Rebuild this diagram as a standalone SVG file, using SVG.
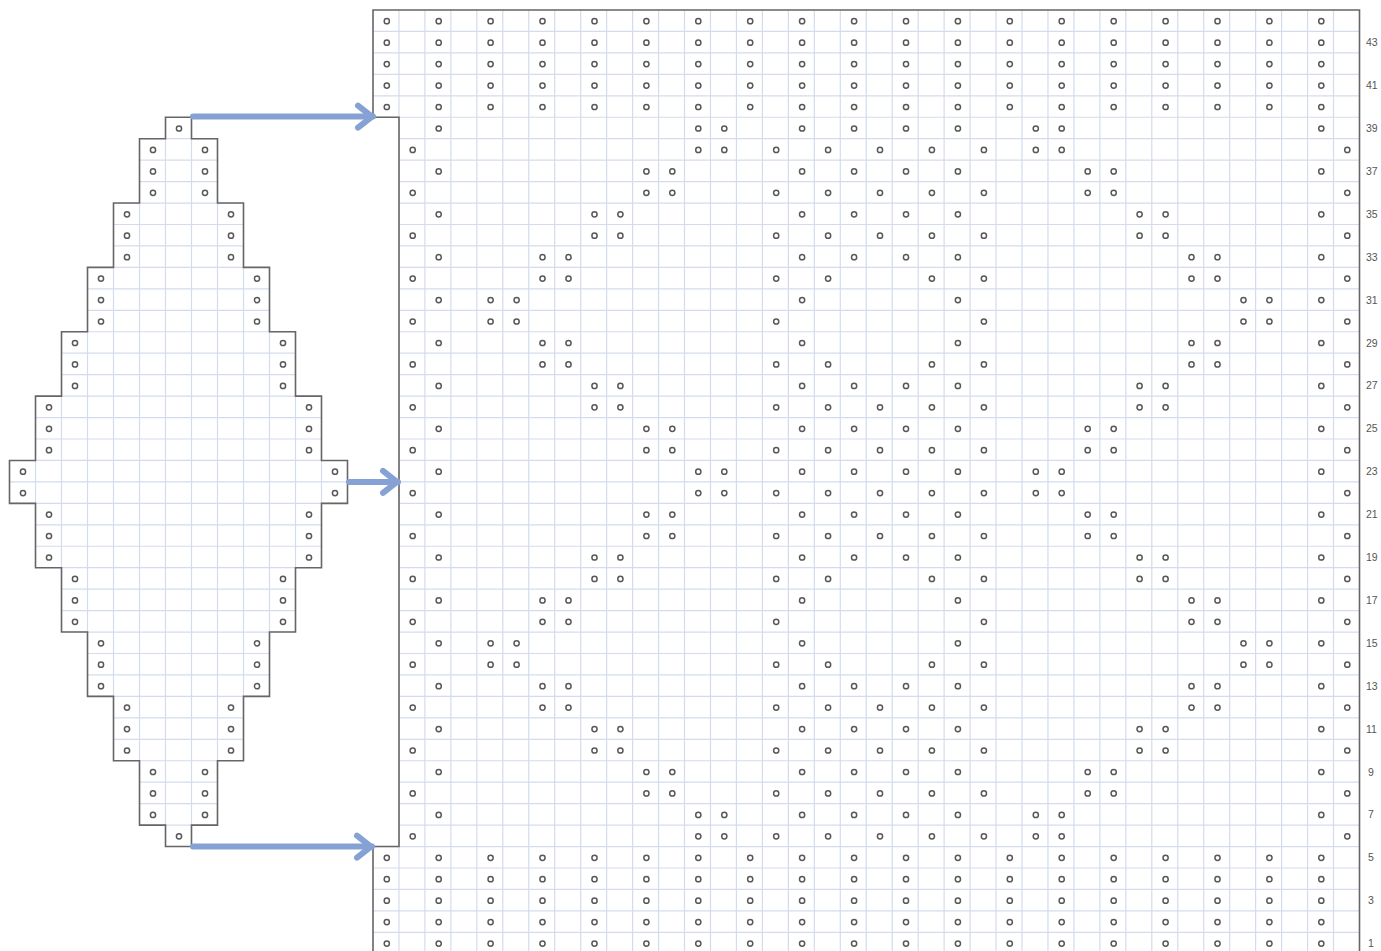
<svg xmlns="http://www.w3.org/2000/svg" xmlns:xlink="http://www.w3.org/1999/xlink" width="1381" height="951" viewBox="0 0 1381 951">
<style>
.dot{fill:#fff;stroke:#585858;stroke-width:1.5}
.grid{fill:none;stroke:#d3dbec;stroke-width:1.2}
.outline{fill:none;stroke:#666;stroke-width:1.6}
.num{font-family:"Liberation Sans",Arial,sans-serif;font-size:10.5px;fill:#555}
.arrow{fill:none;stroke:#86a2d4;stroke-width:6;stroke-linecap:round}
.ahead{fill:none;stroke:#86a2d4;stroke-width:6;stroke-linecap:round;stroke-linejoin:round}
</style>
<defs>
<marker id="ah" markerUnits="userSpaceOnUse" viewBox="-20 -15 30 30" markerWidth="30" markerHeight="30" refX="0" refY="0" orient="auto" overflow="visible">
<path class="ahead" d="M-15,-11 L-1,0 L-15,11"/>
</marker>
<circle id="o" class="dot" r="2.6"/>
<clipPath id="clipMain"><path d="M373,10 H1359.5 V956 H373 V846.55 H399 V117.25 H373 Z"/></clipPath>
<clipPath id="clipLeft"><path d="M165.5,117.25 H191.5 V138.7 H217.5 V203.05 H243.5 V267.4 H269.5 V331.75 H295.5 V396.1 H321.5 V460.45 H347.5 V503.35 H321.5 V567.7 H295.5 V632.05 H269.5 V696.4 H243.5 V760.75 H217.5 V825.1 H191.5 V846.55 H165.5 V825.1 H139.5 V760.75 H113.5 V696.4 H87.5 V632.05 H61.5 V567.7 H35.5 V503.35 H9.5 V460.45 H35.5 V396.1 H61.5 V331.75 H87.5 V267.4 H113.5 V203.05 H139.5 V138.7 H165.5 Z"/></clipPath>
<g id="fullrow"><use href="#o" x="386.8"/><use href="#o" x="438.7"/><use href="#o" x="490.6"/><use href="#o" x="542.5"/><use href="#o" x="594.5"/><use href="#o" x="646.4"/><use href="#o" x="698.3"/><use href="#o" x="750.2"/><use href="#o" x="802.1"/><use href="#o" x="854.1"/><use href="#o" x="906"/><use href="#o" x="957.9"/><use href="#o" x="1009.8"/><use href="#o" x="1061.7"/><use href="#o" x="1113.7"/><use href="#o" x="1165.6"/><use href="#o" x="1217.5"/><use href="#o" x="1269.4"/><use href="#o" x="1321.3"/></g>
<g id="oddFull"><use href="#o" x="438.7"/><use href="#o" x="802.1"/><use href="#o" x="854.1"/><use href="#o" x="906"/><use href="#o" x="957.9"/><use href="#o" x="1321.3"/></g>
<g id="oddPart"><use href="#o" x="438.7"/><use href="#o" x="802.1"/><use href="#o" x="957.9"/><use href="#o" x="1321.3"/></g>
<g id="evenFull"><use href="#o" x="412.7"/><use href="#o" x="776.2"/><use href="#o" x="828.1"/><use href="#o" x="880"/><use href="#o" x="931.9"/><use href="#o" x="983.9"/><use href="#o" x="1347.3"/></g>
<g id="evenMid"><use href="#o" x="412.7"/><use href="#o" x="776.2"/><use href="#o" x="828.1"/><use href="#o" x="931.9"/><use href="#o" x="983.9"/><use href="#o" x="1347.3"/></g>
<g id="evenOuter"><use href="#o" x="412.7"/><use href="#o" x="776.2"/><use href="#o" x="983.9"/><use href="#o" x="1347.3"/></g>
<g id="p5"><use href="#o" x="490.6"/><use href="#o" x="516.6"/><use href="#o" x="1243.5"/><use href="#o" x="1269.4"/></g>
<g id="p7"><use href="#o" x="542.5"/><use href="#o" x="568.5"/><use href="#o" x="1191.5"/><use href="#o" x="1217.5"/></g>
<g id="p9"><use href="#o" x="594.5"/><use href="#o" x="620.4"/><use href="#o" x="1139.6"/><use href="#o" x="1165.6"/></g>
<g id="p11"><use href="#o" x="646.4"/><use href="#o" x="672.3"/><use href="#o" x="1087.7"/><use href="#o" x="1113.7"/></g>
<g id="p13"><use href="#o" x="698.3"/><use href="#o" x="724.3"/><use href="#o" x="1035.8"/><use href="#o" x="1061.7"/></g>
</defs>
<rect width="1381" height="951" fill="#fff"/>

<g id="left-chart">
<path class="grid" clip-path="url(#clipLeft)" d="M35.5,110V850M61.5,110V850M87.5,110V850M113.5,110V850M139.5,110V850M165.5,110V850M191.5,110V850M217.5,110V850M243.5,110V850M269.5,110V850M295.5,110V850M321.5,110V850M5,138.7H352M5,160.15H352M5,181.6H352M5,203.05H352M5,224.5H352M5,245.95H352M5,267.4H352M5,288.85H352M5,310.3H352M5,331.75H352M5,353.2H352M5,374.65H352M5,396.1H352M5,417.55H352M5,439H352M5,460.45H352M5,481.9H352M5,503.35H352M5,524.8H352M5,546.25H352M5,567.7H352M5,589.15H352M5,610.6H352M5,632.05H352M5,653.5H352M5,674.95H352M5,696.4H352M5,717.85H352M5,739.3H352M5,760.75H352M5,782.2H352M5,803.65H352M5,825.1H352"/>
<path class="outline" d="M165.5,117.25 H191.5 V138.7 H217.5 V203.05 H243.5 V267.4 H269.5 V331.75 H295.5 V396.1 H321.5 V460.45 H347.5 V503.35 H321.5 V567.7 H295.5 V632.05 H269.5 V696.4 H243.5 V760.75 H217.5 V825.1 H191.5 V846.55 H165.5 V825.1 H139.5 V760.75 H113.5 V696.4 H87.5 V632.05 H61.5 V567.7 H35.5 V503.35 H9.5 V460.45 H35.5 V396.1 H61.5 V331.75 H87.5 V267.4 H113.5 V203.05 H139.5 V138.7 H165.5 Z"/>
<use href="#o" x="179" y="128.5"/>
<use href="#o" x="153" y="149.9"/><use href="#o" x="205" y="149.9"/>
<use href="#o" x="153" y="171.4"/><use href="#o" x="205" y="171.4"/>
<use href="#o" x="153" y="192.8"/><use href="#o" x="205" y="192.8"/>
<use href="#o" x="127" y="214.3"/><use href="#o" x="231" y="214.3"/>
<use href="#o" x="127" y="235.7"/><use href="#o" x="231" y="235.7"/>
<use href="#o" x="127" y="257.2"/><use href="#o" x="231" y="257.2"/>
<use href="#o" x="101" y="278.6"/><use href="#o" x="257" y="278.6"/>
<use href="#o" x="101" y="300.1"/><use href="#o" x="257" y="300.1"/>
<use href="#o" x="101" y="321.5"/><use href="#o" x="257" y="321.5"/>
<use href="#o" x="75" y="343"/><use href="#o" x="283" y="343"/>
<use href="#o" x="75" y="364.4"/><use href="#o" x="283" y="364.4"/>
<use href="#o" x="75" y="385.9"/><use href="#o" x="283" y="385.9"/>
<use href="#o" x="49" y="407.3"/><use href="#o" x="309" y="407.3"/>
<use href="#o" x="49" y="428.8"/><use href="#o" x="309" y="428.8"/>
<use href="#o" x="49" y="450.2"/><use href="#o" x="309" y="450.2"/>
<use href="#o" x="23" y="471.7"/><use href="#o" x="335" y="471.7"/>
<use href="#o" x="23" y="493.1"/><use href="#o" x="335" y="493.1"/>
<use href="#o" x="49" y="514.6"/><use href="#o" x="309" y="514.6"/>
<use href="#o" x="49" y="536"/><use href="#o" x="309" y="536"/>
<use href="#o" x="49" y="557.5"/><use href="#o" x="309" y="557.5"/>
<use href="#o" x="75" y="578.9"/><use href="#o" x="283" y="578.9"/>
<use href="#o" x="75" y="600.4"/><use href="#o" x="283" y="600.4"/>
<use href="#o" x="75" y="621.8"/><use href="#o" x="283" y="621.8"/>
<use href="#o" x="101" y="643.3"/><use href="#o" x="257" y="643.3"/>
<use href="#o" x="101" y="664.7"/><use href="#o" x="257" y="664.7"/>
<use href="#o" x="101" y="686.2"/><use href="#o" x="257" y="686.2"/>
<use href="#o" x="127" y="707.6"/><use href="#o" x="231" y="707.6"/>
<use href="#o" x="127" y="729.1"/><use href="#o" x="231" y="729.1"/>
<use href="#o" x="127" y="750.5"/><use href="#o" x="231" y="750.5"/>
<use href="#o" x="153" y="772"/><use href="#o" x="205" y="772"/>
<use href="#o" x="153" y="793.4"/><use href="#o" x="205" y="793.4"/>
<use href="#o" x="153" y="814.9"/><use href="#o" x="205" y="814.9"/>
<use href="#o" x="179" y="836.3"/>
</g>

<g id="main-chart">
<path class="grid" clip-path="url(#clipMain)" d="M398.96,10V956M424.92,10V956M450.88,10V956M476.84,10V956M502.8,10V956M528.76,10V956M554.72,10V956M580.68,10V956M606.64,10V956M632.6,10V956M658.56,10V956M684.52,10V956M710.48,10V956M736.44,10V956M762.4,10V956M788.36,10V956M814.32,10V956M840.28,10V956M866.24,10V956M892.2,10V956M918.16,10V956M944.12,10V956M970.08,10V956M996.04,10V956M1022,10V956M1047.96,10V956M1073.92,10V956M1099.88,10V956M1125.84,10V956M1151.8,10V956M1177.76,10V956M1203.72,10V956M1229.68,10V956M1255.64,10V956M1281.6,10V956M1307.56,10V956M1333.52,10V956M373,31.45H1360M373,52.9H1360M373,74.35H1360M373,95.8H1360M373,117.25H1360M373,138.7H1360M373,160.15H1360M373,181.6H1360M373,203.05H1360M373,224.5H1360M373,245.95H1360M373,267.4H1360M373,288.85H1360M373,310.3H1360M373,331.75H1360M373,353.2H1360M373,374.65H1360M373,396.1H1360M373,417.55H1360M373,439H1360M373,460.45H1360M373,481.9H1360M373,503.35H1360M373,524.8H1360M373,546.25H1360M373,567.7H1360M373,589.15H1360M373,610.6H1360M373,632.05H1360M373,653.5H1360M373,674.95H1360M373,696.4H1360M373,717.85H1360M373,739.3H1360M373,760.75H1360M373,782.2H1360M373,803.65H1360M373,825.1H1360M373,846.55H1360M373,868H1360M373,889.45H1360M373,910.9H1360M373,932.35H1360M373,953.8H1360"/>
<path class="outline" d="M373,958 V846.55 H399 V117.25 H373 V10 H1359.5 V958"/>
<use href="#fullrow" y="21.2"/>
<use href="#fullrow" y="42.7"/>
<use href="#fullrow" y="64.1"/>
<use href="#fullrow" y="85.6"/>
<use href="#fullrow" y="107"/>
<use href="#oddFull" y="128.5"/><use href="#p13" y="128.5"/>
<use href="#evenFull" y="149.9"/><use href="#p13" y="149.9"/>
<use href="#oddFull" y="171.4"/><use href="#p11" y="171.4"/>
<use href="#evenFull" y="192.8"/><use href="#p11" y="192.8"/>
<use href="#oddFull" y="214.3"/><use href="#p9" y="214.3"/>
<use href="#evenFull" y="235.7"/><use href="#p9" y="235.7"/>
<use href="#oddFull" y="257.2"/><use href="#p7" y="257.2"/>
<use href="#evenMid" y="278.6"/><use href="#p7" y="278.6"/>
<use href="#oddPart" y="300.1"/><use href="#p5" y="300.1"/>
<use href="#evenOuter" y="321.5"/><use href="#p5" y="321.5"/>
<use href="#oddPart" y="343"/><use href="#p7" y="343"/>
<use href="#evenMid" y="364.4"/><use href="#p7" y="364.4"/>
<use href="#oddFull" y="385.9"/><use href="#p9" y="385.9"/>
<use href="#evenFull" y="407.3"/><use href="#p9" y="407.3"/>
<use href="#oddFull" y="428.8"/><use href="#p11" y="428.8"/>
<use href="#evenFull" y="450.2"/><use href="#p11" y="450.2"/>
<use href="#oddFull" y="471.7"/><use href="#p13" y="471.7"/>
<use href="#evenFull" y="493.1"/><use href="#p13" y="493.1"/>
<use href="#oddFull" y="514.6"/><use href="#p11" y="514.6"/>
<use href="#evenFull" y="536"/><use href="#p11" y="536"/>
<use href="#oddFull" y="557.5"/><use href="#p9" y="557.5"/>
<use href="#evenMid" y="578.9"/><use href="#p9" y="578.9"/>
<use href="#oddPart" y="600.4"/><use href="#p7" y="600.4"/>
<use href="#evenOuter" y="621.8"/><use href="#p7" y="621.8"/>
<use href="#oddPart" y="643.3"/><use href="#p5" y="643.3"/>
<use href="#evenMid" y="664.7"/><use href="#p5" y="664.7"/>
<use href="#oddFull" y="686.2"/><use href="#p7" y="686.2"/>
<use href="#evenFull" y="707.6"/><use href="#p7" y="707.6"/>
<use href="#oddFull" y="729.1"/><use href="#p9" y="729.1"/>
<use href="#evenFull" y="750.5"/><use href="#p9" y="750.5"/>
<use href="#oddFull" y="772"/><use href="#p11" y="772"/>
<use href="#evenFull" y="793.4"/><use href="#p11" y="793.4"/>
<use href="#oddFull" y="814.9"/><use href="#p13" y="814.9"/>
<use href="#evenFull" y="836.3"/><use href="#p13" y="836.3"/>
<use href="#fullrow" y="857.8"/>
<use href="#fullrow" y="879.2"/>
<use href="#fullrow" y="900.7"/>
<use href="#fullrow" y="922.1"/>
<use href="#fullrow" y="943.6"/>
</g>

<g id="row-numbers" class="num">
<text x="1366" y="46.2">43</text>
<text x="1366" y="89.1">41</text>
<text x="1366" y="132">39</text>
<text x="1366" y="174.9">37</text>
<text x="1366" y="217.8">35</text>
<text x="1366" y="260.7">33</text>
<text x="1366" y="303.6">31</text>
<text x="1366" y="346.5">29</text>
<text x="1366" y="389.4">27</text>
<text x="1366" y="432.3">25</text>
<text x="1366" y="475.2">23</text>
<text x="1366" y="518.1">21</text>
<text x="1366" y="561">19</text>
<text x="1366" y="603.9">17</text>
<text x="1366" y="646.8">15</text>
<text x="1366" y="689.7">13</text>
<text x="1366" y="732.6">11</text>
<text x="1368" y="775.5">9</text>
<text x="1368" y="818.4">7</text>
<text x="1368" y="861.3">5</text>
<text x="1368" y="904.2">3</text>
<text x="1368" y="947.1">1</text>
</g>

<g id="connectors">
<path class="arrow" marker-end="url(#ah)" d="M193,116.6 H373"/>
<path class="arrow" marker-end="url(#ah)" d="M349,481.9 H398"/>
<path class="arrow" marker-end="url(#ah)" d="M193,846.6 H372"/>
</g>
</svg>
